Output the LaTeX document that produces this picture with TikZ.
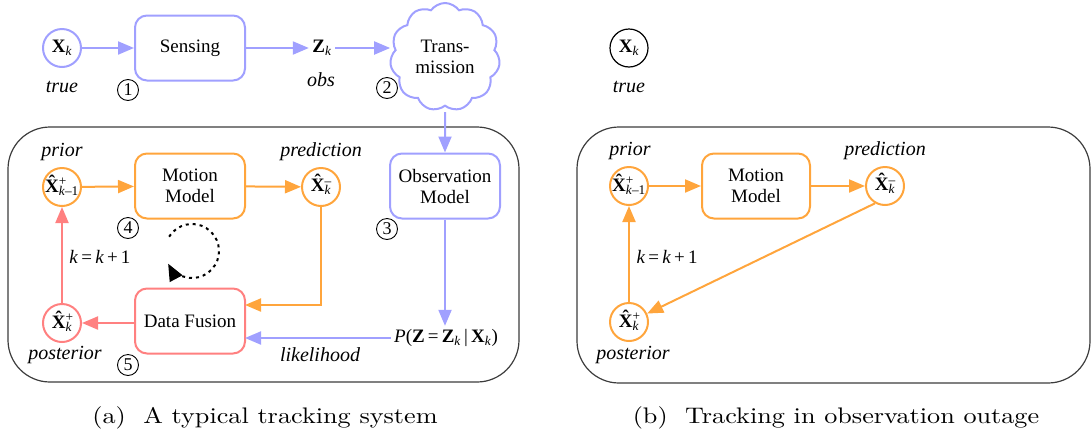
\documentclass[tikz,border=0pt]{standalone}
\usepackage{fontspec}
\setmainfont{Liberation Serif}
\usetikzlibrary{arrows.meta,shapes.symbols}

\definecolor{sensblue}{RGB}{160,160,255}
\definecolor{trackorange}{RGB}{255,165,60}
\definecolor{fusered}{RGB}{255,128,128}
\definecolor{framegray}{RGB}{60,60,60}

% bold X with a circumflex hat
\newsavebox\hatbox
\newcommand{\hatX}{\sbox\hatbox{\textbf{X}}\makebox[\wd\hatbox][c]{\raisebox{0.2em}[0pt][0pt]{\bfseries\char"02C6}}\kern-\wd\hatbox\usebox\hatbox}
% stacked superscript and subscript
\newcommand{\supsub}[2]{\rlap{\textsuperscript{#1}}\textsubscript{#2}}
\newcommand{\kk}{\textit{k}}
% caption text in 10pt Latin Modern, enlarged
\newcommand{\captext}[1]{\scalebox{2.62}[2.25]{\fontfamily{lmr}\fontsize{10}{12}\selectfont #1}}

\begin{document}
\begin{tikzpicture}[x=1pt,y=-1pt,
  every node/.style={font=\fontsize{19}{21}\selectfont},
  tip/.style={-{Triangle[length=16pt,width=13pt]}},
  flow/.style={line width=2pt,tip},
  procbox/.style={draw,line width=2pt,rounded corners=12pt,minimum width=110pt,minimum height=65pt,align=center,inner sep=2pt},
  state/.style={draw,line width=2pt,circle,minimum size=38pt,inner sep=0pt},
  lbl/.style={font=\fontsize{20}{22}\selectfont\itshape},
  stepnum/.style={draw,circle,line width=0.9pt,minimum size=21pt,inner sep=0pt,font=\fontsize{18}{18}\selectfont},
  frame/.style={draw=framegray,line width=1.2pt,rounded corners=42pt},
  caption/.style={inner sep=0pt}
]
\useasboundingbox (0,0) rectangle (1091,437);

% ---------- (a) typical tracking system ----------
\draw[frame] (8,127) rectangle (519,382);

% sensing chain
\node[state,draw=sensblue] (xa) at (62,48) {\textbf{X}\textsubscript{\kk}};
\node[lbl] (truea) at (62,87) {true};
\node[procbox,draw=sensblue] (sens) at (190,48) {Sensing};
\node (zk) at (322,48) {\textbf{Z}\textsubscript{\kk}};
\node[lbl] (obs) at (321,80) {obs};
\node[cloud,draw=sensblue,line width=2pt,cloud puffs=11,cloud puff arc=110,aspect=1,
      minimum width=110pt,minimum height=108pt,inner sep=0pt,align=center] (tx) at (445,57) {Trans-\\mission};
\node[stepnum] (n1) at (128,90) {1};
\node[stepnum] (n2) at (387,88) {2};

\draw[flow,sensblue] (xa) -- (sens);
\draw[flow,sensblue] (sens) -- (zk);
\draw[flow,sensblue] (zk) -- (tx.west|-zk);

% observation side
\node[procbox,draw=sensblue] (obsm) at (445,186) {Observation\\Model};
\node[stepnum] (n3) at (387,229) {3};
\node (lik) at (446,338) {\textit{P}(\textbf{Z}\,=\,\textbf{Z}\textsubscript{\kk}\,|\,\textbf{X}\textsubscript{\kk})};
\node[lbl] (likl) at (320,355) {likelihood};
\draw[flow,sensblue] (tx.south|-0,112) -- (obsm);
\draw[flow,sensblue] (obsm) -- (obsm.south|-lik.north);

% prediction loop
\node[state,draw=trackorange] (pa) at (62,187) {\hatX\supsub{+}{\kk--1}};
\node[lbl] (pral) at (62,152) {prior};
\node[procbox,draw=trackorange] (mma) at (190,186) {Motion\\Model};
\node[state,draw=trackorange] (pda) at (321,187) {\hatX\supsub{--}{\kk}};
\node[lbl] (pdal) at (321,152) {prediction};
\node[stepnum] (n4) at (128,228) {4};
\node[procbox,draw=fusered] (df) at (190,321) {Data Fusion};
\node[stepnum] (n5) at (128,365) {5};
\node[state,draw=fusered] (poa) at (62,323) {\hatX\supsub{+}{\kk}};
\node[lbl] (poal) at (65,355) {posterior};
\node (kinca) at (100,257) {\kk\,=\,\kk\,+\,1};

\draw[flow,trackorange] (pa) -- (mma);
\draw[flow,trackorange] (mma) -- (pda);
\coordinate (dfin) at (245,305);
\draw[flow,trackorange] (pda.south) |- (dfin);
\coordinate (likin) at (245,338);
\draw[flow,sensblue] (lik.west) -- (likin);
\draw[flow,fusered] (df.west|-poa) -- (poa);
\draw[flow,fusered] (poa) -- (pa);

% cycle marker
\coordinate (cyc) at (192,251);
\draw[line width=2pt,dash pattern=on 3pt off 4pt,-{Triangle[length=17pt,width=14pt]}]
  ([shift={(212:27)}]cyc) arc[start angle=212,end angle=512,radius=27];

% ---------- (b) observation outage ----------
\draw[frame] (577,127) rectangle (1090,383);
\node[state,draw=black,line width=1.2pt] (xb) at (629,48) {\textbf{X}\textsubscript{\kk}};
\node[lbl] (trueb) at (629,87) {true};

\node[state,draw=trackorange] (pb) at (629,186) {\hatX\supsub{+}{\kk--1}};
\node[lbl] (prbl) at (630,151) {prior};
\node[procbox,draw=trackorange,minimum width=108pt] (mmb) at (756,186) {Motion\\Model};
\node[state,draw=trackorange] (pdb) at (885,186) {\hatX\supsub{--}{\kk}};
\node[lbl] (pdbl) at (885,151) {prediction};
\node[state,draw=trackorange] (pob) at (629,322) {\hatX\supsub{+}{\kk}};
\node[lbl] (pobl) at (633,355) {posterior};
\node (kincb) at (667,257) {\kk\,=\,\kk\,+\,1};

\draw[flow,trackorange] (pb) -- (mmb);
\draw[flow,trackorange] (mmb) -- (pdb);
\draw[flow,trackorange] (pdb.240) -- (pob.25);
\draw[flow,trackorange] (pob) -- (pb);

% ---------- captions ----------
\node[caption] (capa) at (265,418) {\captext{(a)\ \ A typical tracking system}};
\node[caption] (capb) at (836,418) {\captext{(b)\ \ Tracking in observation outage}};
\end{tikzpicture}
\end{document}
